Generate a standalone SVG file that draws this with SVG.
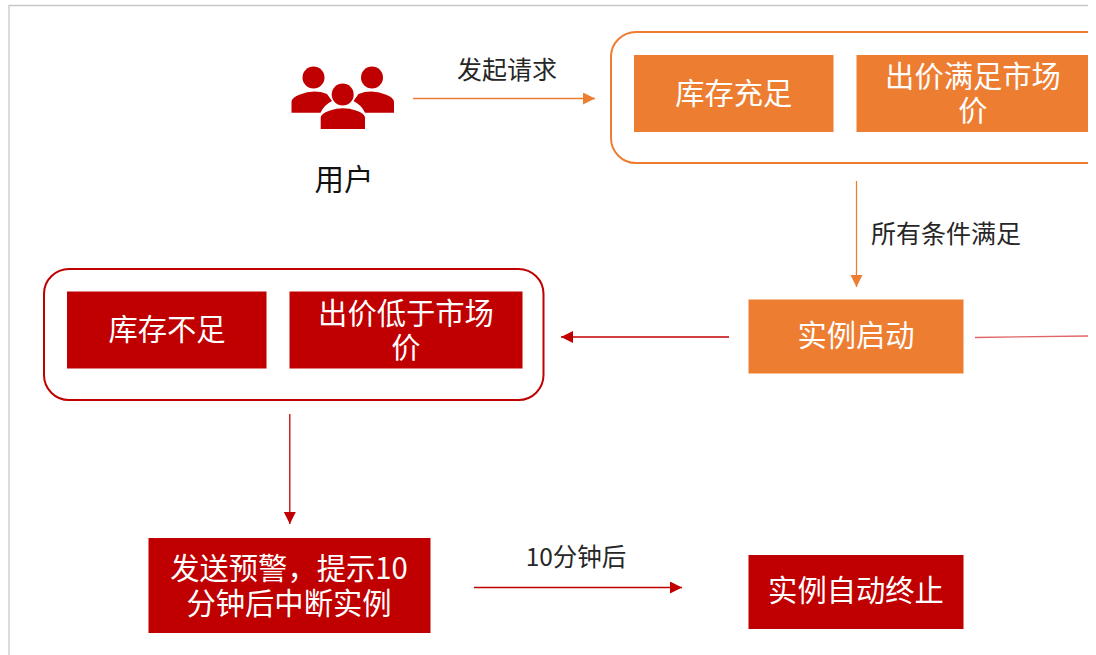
<svg xmlns="http://www.w3.org/2000/svg" width="1096" height="655" viewBox="0 0 1096 655">
<style>
text{font-family:"Noto Sans CJK SC","Liberation Sans",sans-serif;text-anchor:middle}
.w{fill:#fff;font-size:29.300px}
.k{fill:#262626;font-size:25px}
.or{fill:#ed7d31}
.rd{fill:#c00000}
.cl{fill:#fff;stroke-width:2}
.ln{fill:none;stroke-width:1.300}
</style>
<defs>
<marker id="ao" markerUnits="userSpaceOnUse" markerWidth="13" markerHeight="13" refX="12" refY="6" orient="auto"><path d="M0 0L12 6L0 12Z" fill="#ed7d31"/></marker>
<marker id="ar" markerUnits="userSpaceOnUse" markerWidth="13" markerHeight="13" refX="12" refY="6" orient="auto"><path d="M0 0L12 6L0 12Z" fill="#c00000"/></marker>
</defs>
<rect width="1096" height="655" fill="#fff"/>
<path d="M9 655V5.500H1088" fill="none" stroke="#c8c8c8" stroke-width="1.300"/>
<g id="connectors">
<path class="ln" stroke="#ed7d31" d="M413 98.500H595" marker-end="url(#ao)"/>
<path class="ln" stroke="#ed7d31" d="M856.500 181V287" marker-end="url(#ao)"/>
<path class="ln" stroke="#c00000" d="M729 337H561" marker-end="url(#ar)"/>
<path class="ln" stroke="#e06666" d="M975 337.500L1088 336"/>
<path class="ln" stroke="#c00000" d="M289.800 414V524" marker-end="url(#ar)"/>
<path class="ln" stroke="#c00000" d="M474 587.500H682" marker-end="url(#ar)"/>
</g>
<g id="user">
<g class="rd">
<circle cx="313.500" cy="77.500" r="11"/><circle cx="372" cy="77.500" r="11"/><circle cx="342.700" cy="94.500" r="11"/>
<path d="M291.500 112.700V102Q292 97 300 94.500Q314 89 327 94L332 101Q324 105 320.500 112.700Z"/>
<path d="M394 112.700V102Q393.500 97 385.500 94.500Q371.500 89 358.500 94L353.500 101Q361.500 105 365 112.700Z"/>
<path d="M320.700 129V118Q321 113 330 110.500Q343 106 356 110.500Q364.700 113 365 118V129Z"/>
</g>
<text x="344" y="190" style="font-size:29.500px;fill:#111">用户</text>
</g>
<text class="k" x="507" y="79">发起请求</text>
<g id="cond-ok">
<rect class="cl" x="611" y="32" width="520" height="131" rx="25" stroke="#ed7d31"/>
<rect class="or" x="634" y="55" width="199.500" height="77"/>
<text class="w" x="733.800" y="104">库存充足</text>
<rect class="or" x="856.500" y="55" width="240" height="77"/>
<text class="w"><tspan x="973" y="87">出价满足市场</tspan><tspan x="973" y="121">价</tspan></text>
</g>
<text class="k" x="946" y="243">所有条件满足</text>
<g id="start">
<rect class="or" x="748.500" y="299.500" width="215" height="74"/>
<text class="w" x="856" y="346">实例启动</text>
</g>
<g id="cond-fail">
<rect class="cl" x="44" y="269" width="499.500" height="131" rx="25" stroke="#c00000"/>
<rect class="rd" x="67" y="291.500" width="199.500" height="77"/>
<text class="w" x="167" y="340">库存不足</text>
<rect class="rd" x="289.500" y="291.500" width="233" height="77"/>
<text class="w"><tspan x="406" y="324">出价低于市场</tspan><tspan x="406" y="358">价</tspan></text>
</g>
<g id="warn">
<rect class="rd" x="148.500" y="538" width="282" height="95"/>
<text class="w"><tspan x="289" y="579">发送预警，提示10</tspan><tspan x="289" y="614">分钟后中断实例</tspan></text>
</g>
<text class="k" style="font-size:24.500px" x="576" y="566">10分钟后</text>
<g id="stop">
<rect class="rd" x="748.500" y="555" width="215" height="74"/>
<text class="w" x="856" y="601">实例自动终止</text>
</g>
<rect x="1088" y="0" width="8" height="655" fill="#fff"/>
</svg>
